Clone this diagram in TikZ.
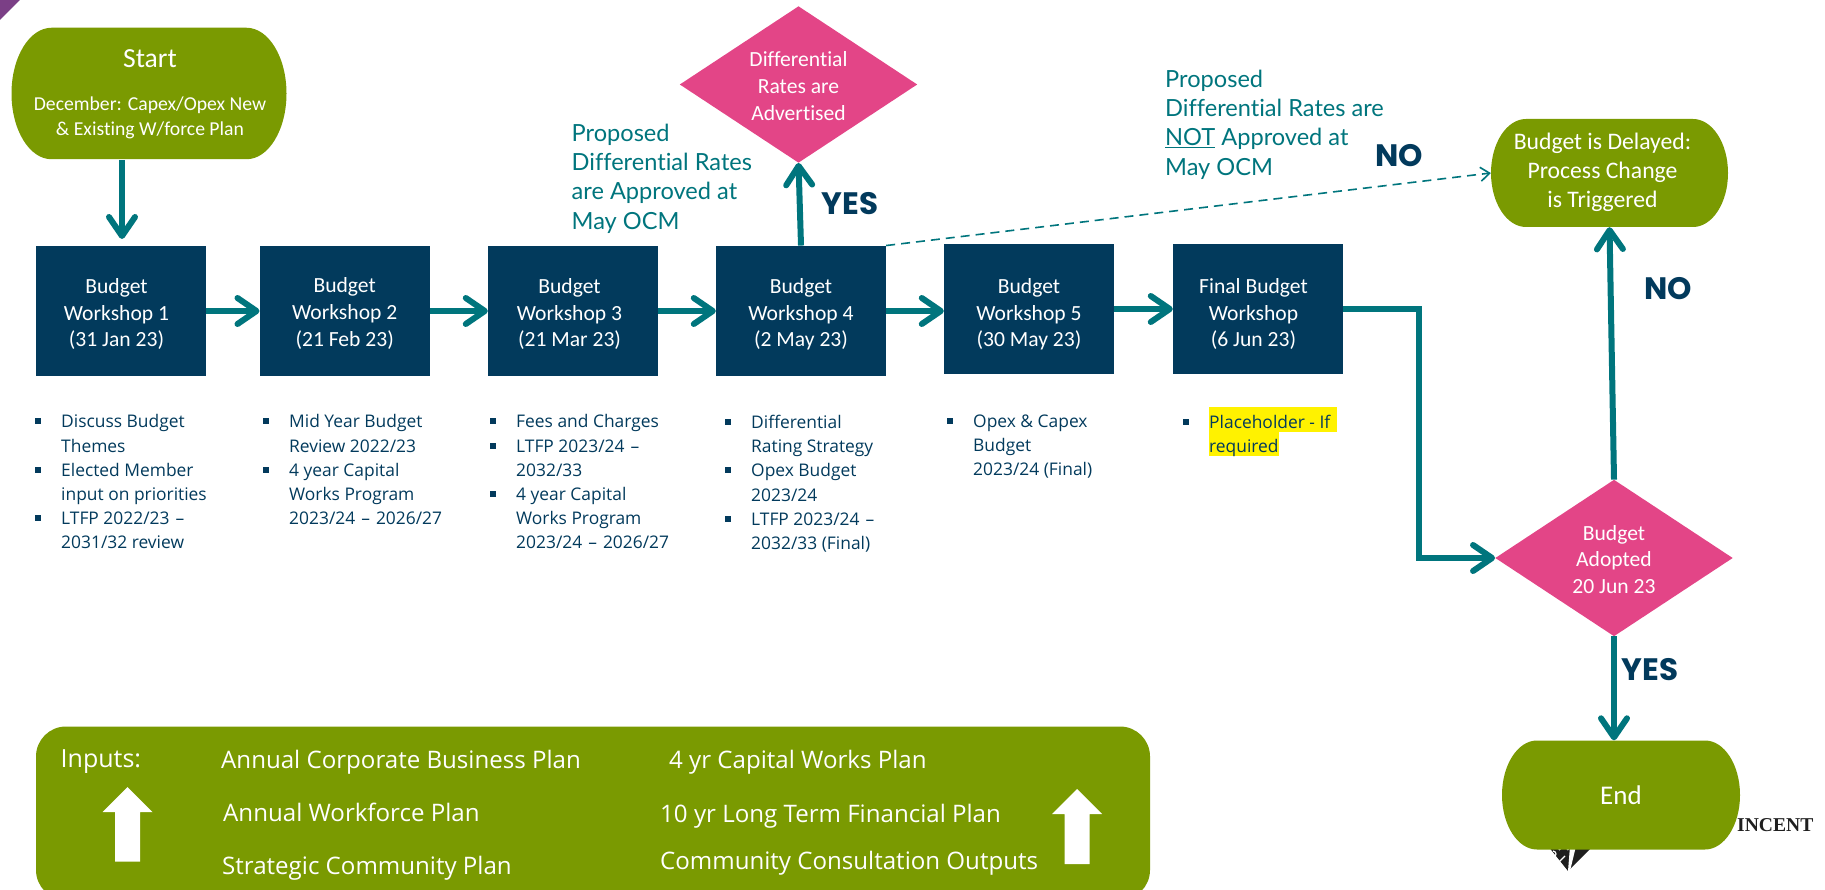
\documentclass[tikz,border=0pt]{standalone}
\usepackage{fontspec}
\usetikzlibrary{arrows.meta,shapes.geometric,calc}
\setmainfont{Carlito}[Ligatures=NoCommon]
\newfontfamily\bodyfont{Open Sans}
\newfontfamily\notefont{Lato}[Ligatures=NoCommon]
\newfontfamily\markfont{Poppins}[BoldFont={Poppins Bold}]
\newfontfamily\logofont{Liberation Serif}
\definecolor{navybox}{HTML}{023A5C}
\definecolor{leaf}{HTML}{7A9A01}
\definecolor{rose}{HTML}{E34587}
\definecolor{flowteal}{HTML}{00757D}
\definecolor{plum}{HTML}{7B3F86}
\newcommand{\fsz}[2]{\fontsize{#1pt}{#2pt}\selectfont}
\newcommand{\bul}{\makebox[26pt][l]{\textcolor{navybox}{\rule[3.5pt]{6pt}{6pt}}}}
\newcommand{\ind}{\hspace*{26pt}}
\newcommand{\wdash}{\ \kern1.5pt–\kern1.5pt\ }
% three centred lines; #4 pads the right (moves text left by half), #5 pads the top (moves text down by half)
\newcommand{\stacked}[5]{\vbox{\kern#5pt\hbox{\begin{tabular}{@{}c@{}}#1\\#2\\#3\end{tabular}\hspace*{#4pt}}}}
% centre x, centre y, half width minus corner, corner x radius, corner y radius
\newcommand{\termfill}[5]{\fill[leaf,shift={(#1,#2)},x=1pt,y=1pt] (-#3-#4,0)
    arc[start angle=180,end angle=90,x radius=#4pt,y radius=#5pt]
    -- (#3,#5)
    arc[start angle=90,end angle=0,x radius=#4pt,y radius=#5pt]
    arc[start angle=0,end angle=-90,x radius=#4pt,y radius=#5pt]
    -- (-#3,-#5)
    arc[start angle=-90,end angle=-180,x radius=#4pt,y radius=#5pt] -- cycle;}
\tikzset{
 wsbox/.style={rectangle,fill=navybox,text=white,minimum width=170,minimum height=130.5,inner sep=0,align=center,font=\fsz{21.6}{26.8}},
 wsboxb/.style={wsbox,minimum height=130},
 gate/.style={diamond,shape aspect=1.52,fill=rose,text=white,minimum width=237.5,minimum height=156.5,inner sep=0,align=center,font=\fsz{21.6}{26.8}},
 terminator/.style={rectangle,inner sep=0,text=white,align=center},
 flow/.style={draw=flowteal,line width=6pt,-{Straight Barb[length=19pt,width=26pt,round,line width=6pt]}},
 dashflow/.style={draw=flowteal,line width=1.6pt,dash pattern=on 9pt off 6pt,-{Straight Barb[length=9pt,width=14pt,line width=1.6pt]}},
 bulletlist/.style={anchor=north west,inner sep=0,align=left,text=navybox,font=\bodyfont\fsz{17.4}{24.2}},
 notetext/.style={anchor=north west,inner sep=0,align=left,text=flowteal,font=\notefont\fsz{23.6}{29.2}},
 verdict/.style={inner sep=0,text=navybox,font=\markfont\bfseries\fsz{31}{31}},
 inputtext/.style={anchor=west,inner sep=0,text=white,font=\bodyfont\fsz{24.1}{28}},
 upblock/.style={fill=white},
}
\begin{document}
\begin{tikzpicture}[x=1pt,y=-1pt]
\useasboundingbox (0,0) rectangle (1825,890);
\clip (0,0) rectangle (1825,890);
% corner mark
\fill[plum] (0,0) -- (20,0) -- (0,20) -- cycle;

% logo fragments behind the End shape
\node[anchor=west,inner sep=0,text=black!88,font=\logofont\bfseries\fsz{19.6}{20}] (incent) at (1737,825) {INCENT};
\fill[black!88] (1548,846) -- (1593,846) -- (1568,871) -- cycle;
\fill[white] (1570,846) -- (1576,846) -- (1570,871) -- (1568,871) -- cycle;
\draw[white,line width=1.2pt] (1553,851) arc[start angle=-90,end angle=90,radius=3];
\draw[white,line width=1.6pt] (1559,850) arc[start angle=200,end angle=340,radius=5];
\draw[white,line width=1.2pt] (1559,862) -- (1565,856);

% highlight
\fill[yellow] (1209,407) rectangle (1337,432);
\fill[yellow] (1209,432) rectangle (1279,456);

% terminators
\termfill{149}{93.5}{97.5}{40}{65.75}
\termfill{1609.5}{173}{83.5}{35}{54}
\termfill{1621}{795}{84}{35}{54.5}
\node[terminator,minimum width=275,minimum height=131.5,font=\fsz{19.7}{24.5}] (start) at (150,94)
 {{\fontsize{27.6}{30}\selectfont Start}\\[18.5pt]December: Capex/Opex New\\\& Existing W/force Plan};
\node[terminator,minimum width=237,minimum height=108,font=\fsz{23.7}{29}] (delayed) at (1609.5,173)
 {\stacked{Budget is Delayed:}{Process Change}{is Triggered}{14}{0}};
\node[terminator,minimum width=238,minimum height=109,font=\fsz{27}{30}] (endterm) at (1621,795) {End};

% workshops
\node[wsbox] (ws1) at (121,311) {\stacked{Budget}{Workshop 1}{(31 Jan 23)}{9}{7.5}};
\node[wsbox] (ws2) at (344.7,311) {\stacked{Budget}{Workshop 2}{(21 Feb 23)}{0}{6.5}};
\node[wsbox] (ws3) at (573,311) {\stacked{Budget}{Workshop 3}{(21 Mar 23)}{7}{7.5}};
\node[wsbox] (ws4) at (801,311) {\stacked{Budget}{Workshop 4}{(2 May 23)}{0}{7.5}};
\node[wsboxb] (ws5) at (1029,309) {\stacked{Budget}{Workshop 5}{(30 May 23)}{0}{11.5}};
\node[wsboxb] (ws6) at (1258,309) {\stacked{Final Budget}{Workshop}{(6 Jun 23)}{9}{11.5}};

% decisions
\node[gate] (rates) at (798.5,84.5) {\stacked{Differential}{Rates are}{Advertised}{0}{7}};
\node[gate] (adopt) at (1614,558) {\stacked{Budget}{Adopted}{20 Jun 23}{0}{7}};

% connectors
\coordinate (startdrop) at (122,0);
\coordinate (startland) at (122,239);
\coordinate (elbow) at (1419,558);
\draw[flow] (start.south -| startdrop) -- (startland);
\draw[flow] (ws1.east) -- (ws2.west);
\draw[flow] (ws2.east) -- (ws3.west);
\draw[flow] (ws3.east) -- (ws4.west);
\draw[flow] (ws4.east) -- (ws4.east -| ws5.west);
\draw[flow] (ws5.east) -- (ws6.west);
\draw[flow] (ws6.east) -| (elbow) -- (adopt.west);
\draw[flow] (ws4.north) -- (rates.south);
\draw[flow] (adopt.north) -- (delayed.south);
\draw[flow] (adopt.south) -- (adopt.south |- endterm.north);
\draw[dashflow] (ws4.north east) -- (delayed.west);

% lists
\node[bulletlist] (l1) at (35,414.5) {\bul Discuss Budget\\\ind Themes\\\bul Elected Member\\\ind input on priorities\\\bul LTFP 2022/23\wdash\\\ind 2031/32 review};
\node[bulletlist] (l2) at (263,414.5) {\bul Mid Year Budget\\\ind Review 2022/23\\\bul 4 year Capital\\\ind Works Program\\\ind 2023/24\wdash 2026/27};
\node[bulletlist] (l3) at (490,414.5) {\bul Fees and Charges\\\bul LTFP 2023/24\wdash\\\ind 2032/33\\\bul 4 year Capital\\\ind Works Program\\\ind 2023/24\wdash 2026/27};
\node[bulletlist] (l4) at (725,415) {\bul Differential\\\ind Rating Strategy\\\bul Opex Budget\\\ind 2023/24\\\bul LTFP 2023/24\wdash\\\ind 2032/33 (Final)};
\node[bulletlist] (l5) at (947,414.5) {\bul Opex \& Capex\\\ind Budget\\\ind 2023/24 (Final)};
\node[bulletlist] (l6) at (1183,414.5) {\bul Placeholder - If\\\ind required};

% teal notes
\node[notetext] (yesnote) at (571.5,124) {Proposed\\Differential Rates\\are Approved at\\May OCM};
\node[notetext] (nonote) at (1165,70) {Proposed\\Differential Rates are\\\underline{NOT} Approved at\\May OCM};

% verdicts
\node[verdict] (yes1) at (850,204) {YES};
\node[verdict] (no1) at (1399,156) {NO};
\node[verdict] (no2) at (1668,289) {NO};
\node[verdict] (yes2) at (1650,669.5) {YES};

% inputs panel
\fill[leaf,rounded corners=30pt] (36,726.5) rectangle (1150,900);
\node[inputtext,font=\bodyfont\fsz{25}{28}] (inputs) at (60.5,761.5) {Inputs:};
\node[inputtext] (i1) at (221,762) {Annual Corporate Business Plan};
\node[inputtext] (i2) at (223,812.5) {Annual Workforce Plan};
\node[inputtext] (i3) at (222,868) {Strategic Community Plan};
\node[inputtext] (i4) at (669,762.5) {4 yr Capital Works Plan};
\node[inputtext] (i5) at (660,816) {10 yr Long Term Financial Plan};
\node[inputtext] (i6) at (660,863.5) {Community Consultation Outputs};
\fill[upblock] (127.5,787) -- (152.5,812) -- (140,812) -- (140,861.5) -- (115,861.5) -- (115,812) -- (102.5,812) -- cycle;
\fill[upblock] (1077,789) -- (1102,814) -- (1089.5,814) -- (1089.5,864) -- (1064.5,864) -- (1064.5,814) -- (1052,814) -- cycle;
\end{tikzpicture}
\end{document}
